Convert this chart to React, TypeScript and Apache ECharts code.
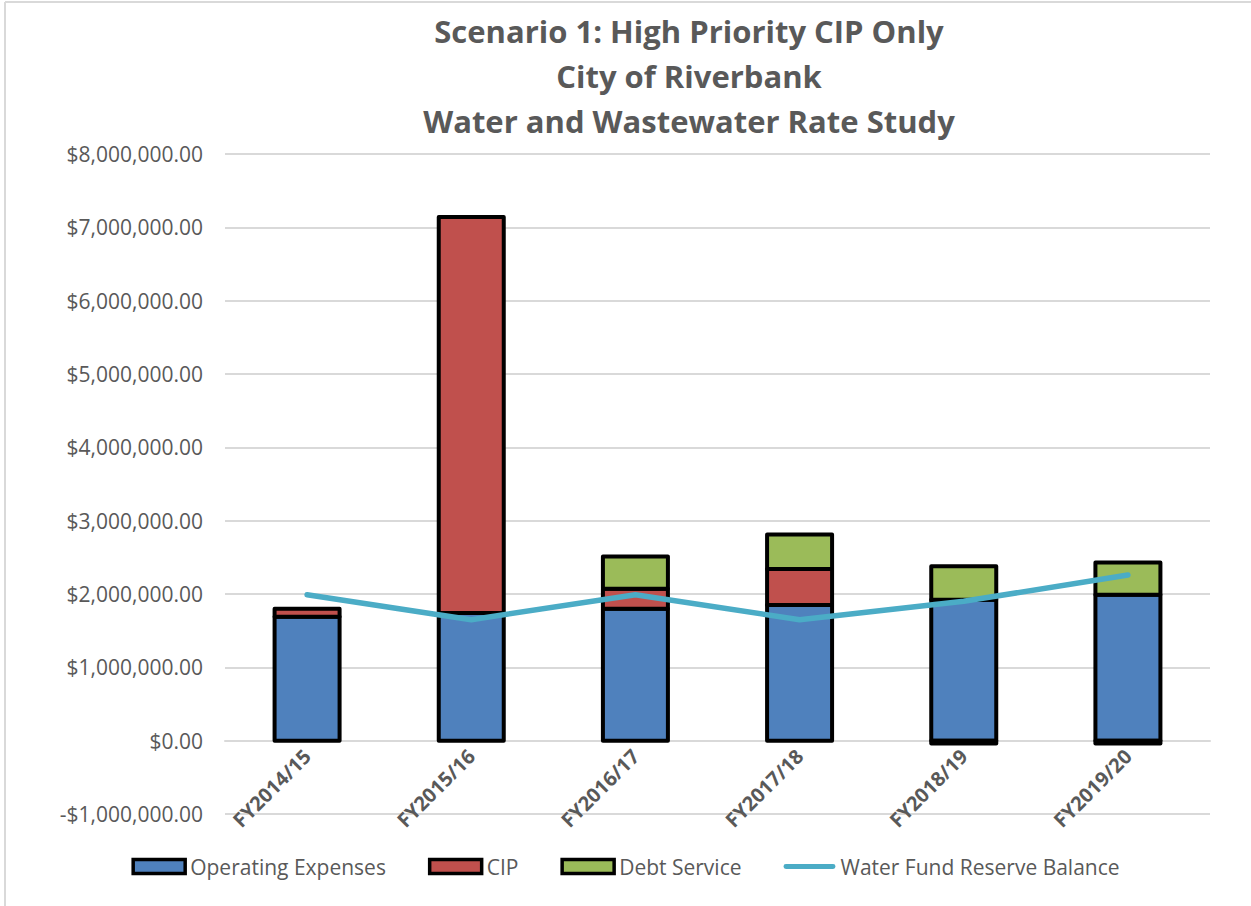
import React, { useEffect, useRef } from "react";
import * as echarts from "echarts";

const categories = ["FY2014/15", "FY2015/16", "FY2016/17", "FY2017/18", "FY2018/19", "FY2019/20"];
const operatingExpenses = [1690000, 1740000, 1800000, 1850000, 1920000, 1990000];
const cip = [110000, 5400000, 270000, 490000, -40000, -40000];
const debtService = [null, null, 440000, 470000, 460000, 440000];
const reserveBalance = [1990000, 1650000, 1990000, 1650000, 1900000, 2260000];
const titleLines = ["Scenario 1: High Priority CIP Only", "City of Riverbank", "Water and Wastewater Rate Study"];

const TEXT = "#595959";
const FONT = "'Open Sans', 'Noto Sans', sans-serif";
const LINE_ICON = "path://M0,0 L0,0.01 M2,4.5 L50,4.5 Q52.5,4.5 52.5,7 Q52.5,9.5 50,9.5 L2,9.5 Q-0.5,9.5 -0.5,7 Q-0.5,4.5 2,4.5 Z M52,14 L52,13.99";
const BAR_W = 65;

function fmtMoney(v: number): string {
  const neg = v < 0;
  const s = Math.abs(v).toFixed(2).replace(/\B(?=(\d{3})+(?!\d))/g, ",");
  return (neg ? "-$" : "$") + s;
}

// Build stacked [index, base, top] triples (same-sign stacking) from the value arrays
function buildStacks(list: (number | null)[][]) {
  const pos = categories.map(() => 0);
  const neg = categories.map(() => 0);
  return list.map((vals) => {
    const out: number[][] = [];
    vals.forEach((v, i) => {
      if (v === null || v === undefined) return;
      if (v >= 0) {
        out.push([i, pos[i], pos[i] + v]);
        pos[i] += v;
      } else {
        out.push([i, neg[i], neg[i] + v]);
        neg[i] += v;
      }
    });
    return out;
  });
}

export default function App() {
  const ref = useRef<HTMLDivElement>(null);
  useEffect(() => {
    if (!ref.current) return;
    const chart = echarts.init(ref.current, undefined, { renderer: "svg" });
    const gridTop = 154;
    const gridBottom = 92;
    const plotH = 906 - gridTop - gridBottom;
    const zeroOffset = -(plotH / 9);
    const [opData, cipData, debtData] = buildStacks([operatingExpenses, cip, debtService]);

    const barSeries = (name: string, color: string, data: number[][]) => ({
      name,
      type: "custom",
      data,
      encode: { x: 0, y: [1, 2] },
      itemStyle: { color },
      renderItem: (params: any, api: any) => {
        const x = api.value(0);
        const p0 = api.coord([x, api.value(1)]);
        const p1 = api.coord([x, api.value(2)]);
        return {
          type: "rect",
          shape: { x: p0[0] - BAR_W / 2, y: Math.min(p0[1], p1[1]), width: BAR_W, height: Math.abs(p1[1] - p0[1]) },
          style: { fill: color, stroke: "#000", lineWidth: 4, lineJoin: "round" },
        };
      },
    });

    chart.setOption({
      animation: false,
      backgroundColor: "#fff",
      textStyle: { fontFamily: FONT },
      title: {
        text: titleLines.join("\n"),
        left: 684,
        textAlign: "center",
        top: 3,
        textStyle: { fontFamily: FONT, fontSize: 31, fontWeight: "bold", color: TEXT, lineHeight: 45 },
      },
      graphic: [
        { type: "line", shape: { x1: 5, y1: 2, x2: 1251, y2: 2 }, style: { stroke: "#d9d9d9", lineWidth: 2 } },
        { type: "line", shape: { x1: 5, y1: 2, x2: 5, y2: 906 }, style: { stroke: "#d9d9d9", lineWidth: 2 } },
      ],
      legend: {
        bottom: 24,
        left: "center",
        itemWidth: 52,
        itemHeight: 14,
        itemGap: 42,
        textStyle: { fontFamily: FONT, fontSize: 21, color: TEXT },
        data: [
          { name: "Operating Expenses", icon: "rect", itemStyle: { color: "#4f81bd", borderColor: "#000", borderWidth: 3.5 } },
          { name: "CIP", icon: "rect", itemStyle: { color: "#c0504d", borderColor: "#000", borderWidth: 3.5 } },
          { name: "Debt Service", icon: "rect", itemStyle: { color: "#9bbb59", borderColor: "#000", borderWidth: 3.5 } },
          { name: "Water Fund Reserve Balance", icon: LINE_ICON, itemStyle: { color: "#4bacc6", borderWidth: 0 } },
        ],
      },
      grid: { left: 225, right: 41, top: gridTop, bottom: gridBottom },
      xAxis: {
        type: "category",
        data: categories,
        offset: zeroOffset,
        axisLine: { onZero: false, lineStyle: { color: "#d9d9d9", width: 2 } },
        axisTick: { show: false },
        axisLabel: { rotate: 45, margin: 12, fontSize: 20, fontWeight: "bold", color: TEXT, fontFamily: FONT },
      },
      yAxis: {
        type: "value",
        min: -1000000,
        max: 8000000,
        interval: 1000000,
        axisLine: { show: false },
        axisTick: { show: false },
        splitLine: { lineStyle: { color: "#d9d9d9", width: 2 } },
        axisLabel: { formatter: (v: number) => fmtMoney(v), fontSize: 21, color: TEXT, margin: 22, fontFamily: FONT },
      },
      series: [
        barSeries("Operating Expenses", "#4f81bd", opData),
        barSeries("CIP", "#c0504d", cipData),
        barSeries("Debt Service", "#9bbb59", debtData),
        {
          name: "Water Fund Reserve Balance",
          type: "line",
          data: reserveBalance,
          showSymbol: false,
          symbol: "none",
          z: 10,
          lineStyle: { color: "#4bacc6", width: 5.5, cap: "round", join: "round" },
          itemStyle: { color: "#4bacc6" },
        },
      ],
    });
    return () => chart.dispose();
  }, []);
  return <div ref={ref} style={{ position: "absolute", left: 0, top: 0, width: 1251, height: 906 }} />;
}
